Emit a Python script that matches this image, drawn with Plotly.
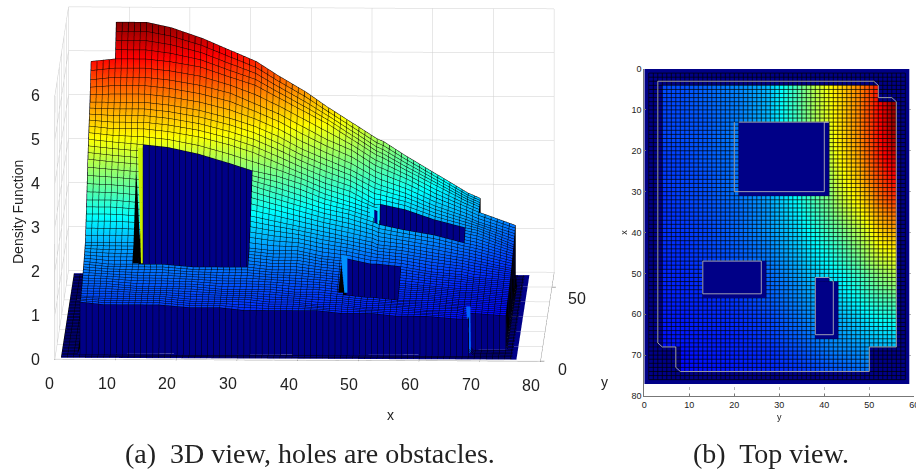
import numpy as np
import plotly.graph_objects as go

# ---- data ----
X_KNOTS = [1, 4, 8, 13, 17, 22, 27, 31, 35, 39, 43, 47, 51, 52, 56, 61, 66, 68, 74, 76]
Y_KNOTS = [1, 4, 8, 13, 21, 27, 33, 38, 41, 43, 47, 50, 52, 56, 58]
DENSITY_MAX = 5.85
# density as fraction of DENSITY_MAX: rows follow X_KNOTS, columns follow Y_KNOTS
DENSITY_FRAC = [
    [.20, .20, .20, .22, .26, .30, .43, .56, .62, .66, .73, .80, .86, .86, .86],
    [.20, .20, .20, .22, .26, .30, .43, .56, .62, .66, .73, .80, .86, .86, .86],
    [.19, .19, .20, .22, .25, .30, .43, .55, .61, .65, .73, .81, .87, .99, .99],
    [.19, .19, .20, .21, .25, .30, .42, .54, .60, .65, .73, .81, .87, .99, .99],
    [.18, .19, .20, .21, .25, .30, .41, .53, .59, .64, .72, .80, .86, .97, .97],
    [.18, .18, .19, .21, .24, .29, .40, .51, .565, .62, .70, .78, .84, .93, .93],
    [.18, .18, .19, .20, .24, .28, .38, .49, .53, .59, .67, .75, .80, .88, .88],
    [.17, .17, .19, .20, .24, .28, .37, .46, .50, .56, .64, .71, .77, .84, .84],
    [.17, .17, .18, .20, .23, .27, .35, .43, .48, .52, .60, .67, .72, .78, .78],
    [.17, .17, .18, .19, .23, .27, .33, .40, .45, .48, .55, .62, .67, .725, .725],
    [.16, .17, .17, .19, .22, .25, .31, .37, .41, .44, .51, .57, .62, .66, .66],
    [.16, .16, .17, .18, .21, .24, .29, .35, .38, .41, .47, .53, .56, .60, .60],
    [.16, .16, .16, .17, .19, .22, .27, .32, .35, .36, .42, .47, .50, .54, .54],
    [.16, .16, .16, .17, .19, .22, .26, .31, .34, .36, .41, .46, .49, .53, .53],
    [.15, .15, .16, .16, .18, .21, .25, .29, .32, .34, .38, .42, .44, .47, .47],
    [.15, .15, .15, .16, .17, .19, .23, .27, .29, .30, .33, .36, .38, .40, .40],
    [.14, .14, .15, .15, .16, .18, .21, .24, .26, .27, .29, .31, .32, .33, .33],
    [.14, .14, .14, .15, .16, .17, .20, .23, .25, .26, .27, .29, .30, .31, .31],
    [.13, .13, .13, .14, .15, .16, .17, .19, .20, .205, .225, .24, .26, .28, .28],
    [.13, .13, .13, .14, .15, .16, .17, .19, .20, .205, .225, .24, .26, .28, .28],
]
# removed regions: x0, x1, y0, y1
OBSTACLES = [(13, 31, 21, 41), (47, 56, 13, 27), (52, 66, 38, 43), (51, 52, 38, 41)]
OUTER_CUTS = [(0, 4, 0, 60), (74, 80, 0, 60), (0, 80, 0, 4), (0, 80, 56, 60),
              (0, 8, 52, 60), (68, 80, 0, 8), (68, 80, 50, 60)]
# obstacle side walls seen at a grazing angle: colour and (x, y, z) corners
WALL_FACES = [
    ("#000000", [(12.06, 21, 1.48), (13.4, 21, 1.48), (12.6, 21, 3.7)]),
    ("#c8f000", [(12.9, 21, 4.11), (13.7, 21, 4.11), (13.7, 21, 1.48), (13.4, 21, 1.48)]),
    ("#000000", [(46.2, 13, 1.1), (47.2, 13, 1.1), (46.7, 13, 1.77)]),
    ("#0090ff", [(46.7, 13, 1.95), (47.7, 13, 1.95), (47.7, 13, 1.1), (47.2, 13, 1.1)]),
    ("#00e5ff", [(50.4, 38, 2.2), (51.2, 38, 2.2), (51.2, 38, 1.77), (50.7, 38, 1.77)]),
    ("#00e5ff", [(51.7, 38, 2.25), (52.1, 38, 2.25), (52.1, 38, 1.75), (51.7, 38, 1.75)]),
    ("#0060ff", [(67.6, 4, 1.1), (68.3, 4, 1.1), (68.4, 4, 0.05), (68.1, 4, 0.05)]),
]
# light outlines on the top view, as (y, x) vertices
OUTLINES = [
    [(3, 3), (51, 3), (52, 4), (52, 7), (55, 7), (56, 8), (56, 68), (50, 68), (50, 74),
     (8, 74), (7, 73), (7, 68), (4, 68), (3, 67), (3, 3)],
    [(21, 13), (41, 13), (40, 13), (40, 30), (20, 30), (20, 13)],
    [(13, 47), (26, 47), (26, 55), (13, 55), (13, 47)],
    [(38, 51), (41, 51), (42, 52), (42, 65), (38, 65), (38, 51)],
]
X_TICKS = [0, 10, 20, 30, 40, 50, 60, 70, 80]
Y_TICKS_3D = [0, 50]
Y_GRID_3D = [0, 10, 20, 30, 40, 50, 60]
Z_TICKS = [0, 1, 2, 3, 4, 5, 6]
TOP_X_TICKS = [0, 10, 20, 30, 40, 50, 60]
TOP_Y_TICKS = [0, 10, 20, 30, 40, 50, 60, 70, 80]
CAPTION_A = "(a)  3D view, holes are obstacles."
CAPTION_B = "(b)  Top view."

JET = [[0, "rgb(0,0,135)"], [.125, "rgb(0,0,255)"], [.375, "rgb(0,255,255)"],
       [.625, "rgb(255,255,0)"], [.875, "rgb(255,0,0)"], [1, "rgb(128,0,0)"]]
EPS = 0.02
CUTS = OBSTACLES + OUTER_CUTS


def expand(knots):
    coords, owner = [], []
    for i, k in enumerate(knots):
        steps = [0] if i in (0, len(knots) - 1) else [-EPS, 0, EPS]
        for s in steps:
            coords.append(k + s)
            owner.append(i)
    return np.array(coords), owner


def open_free(px, py):
    return not any(a <= px <= b and c <= py <= d for a, b, c, d in CUTS)


def closed_free(px, py):
    return not any(a < px < b and c < py < d for a, b, c, d in CUTS)


xs, xo = expand(X_KNOTS)
ys, yo = expand(Y_KNOTS)
D = np.array(DENSITY_FRAC) * DENSITY_MAX
Z = np.zeros((len(xs), len(ys)))
C = np.zeros((len(xs), len(ys)))
for i, px in enumerate(xs):
    for j, py in enumerate(ys):
        d = D[xo[i], yo[j]]
        Z[i, j] = d if closed_free(px, py) else 0.0
        C[i, j] = d if open_free(px, py) else 0.0


def seg3d(points):
    a, b, c = [], [], []
    for p, q in points:
        a += [p[0], q[0], None]
        b += [p[1], q[1], None]
        c += [p[2], q[2], None]
    return a, b, c


grid = []
for x in X_TICKS:
    grid.append(((x, 60, 0), (x, 60, 6)))
    grid.append(((x, 0, 0), (x, 60, 0)))
for y in Y_GRID_3D:
    grid.append(((0, y, 0), (0, y, 6)))
    grid.append(((0, y, 0), (80, y, 0)))
for z in Z_TICKS:
    grid.append(((0, 60, z), (80, 60, z)))
    grid.append(((0, 0, z), (0, 60, z)))
gx, gy, gz = seg3d(grid)

fig = go.Figure()
fig.add_trace(go.Scatter3d(x=gx, y=gy, z=gz, mode="lines", hoverinfo="skip", showlegend=False,
                           line=dict(color="#cfcfcf", width=1)))
fig.add_trace(go.Surface(
    x=xs, y=ys, z=Z.T, surfacecolor=C.T, colorscale=JET, cmin=0, cmax=DENSITY_MAX,
    showscale=False, hoverinfo="skip",
    lighting=dict(ambient=1, diffuse=0, specular=0, roughness=1, fresnel=0),
    contours=dict(
        x=dict(show=True, start=1, end=76, size=1, color="black", width=1),
        y=dict(show=True, start=1, end=58, size=1, color="black", width=1),
        z=dict(show=False)),
))
for colour, corners in WALL_FACES:
    n = len(corners)
    fig.add_trace(go.Mesh3d(
        x=[c[0] for c in corners], y=[c[1] for c in corners], z=[c[2] for c in corners],
        i=[0] * (n - 2), j=list(range(1, n - 1)), k=list(range(2, n)),
        color=colour, flatshading=True, hoverinfo="skip", showscale=False,
        lighting=dict(ambient=1, diffuse=0, specular=0, roughness=1, fresnel=0)))

tick_font = dict(family="Liberation Sans", size=16, color="#222")
ann3d = []
for x in X_TICKS:
    ann3d.append(dict(x=x, y=0, z=0, text=str(x), showarrow=False, xshift=-9 if x else -5, yshift=-24, font=tick_font))
for y in Y_TICKS_3D:
    ann3d.append(dict(x=80, y=y, z=0, text=str(y), showarrow=False, xshift=25 if y else 22,
                      yshift=-11 if y else -8, font=tick_font))
for z in Z_TICKS:
    ann3d.append(dict(x=0, y=0, z=z, text=str(z), showarrow=False, xshift=-19, yshift=0, font=tick_font))

axis3d = dict(showgrid=False, showbackground=False, showspikes=False, zeroline=False,
              showticklabels=False, title=dict(text=""), showline=True, linecolor="#777",
              linewidth=1, ticks="outside", ticklen=4, tickcolor="#555", tickwidth=1)
a = np.radians(1.44)
el = np.radians(9.4)
R = 2.0
scene = dict(
    domain=dict(x=[0, 609 / 916], y=[1 - 368 / 473, 1]),
    xaxis=dict(axis3d, range=[0, 80], tickvals=X_TICKS),
    yaxis=dict(axis3d, range=[0, 60], tickvals=Y_TICKS_3D),
    zaxis=dict(axis3d, range=[0, 6], tickvals=Z_TICKS),
    aspectmode="manual",
    aspectratio=dict(x=2.64, y=2.96, z=1.451),
    camera=dict(projection=dict(type="orthographic"),
                up=dict(x=0, y=0, z=1), center=dict(x=0, y=0, z=0),
                eye=dict(x=R * np.sin(a) * np.cos(el), y=-R * np.cos(a) * np.cos(el), z=R * np.sin(el))),
    annotations=ann3d,
    bgcolor="white",
)

# ---- top view ----
fig.add_trace(go.Heatmap(x=ys, y=xs, z=C, colorscale=JET, zmin=0, zmax=DENSITY_MAX, zsmooth="best",
                         showscale=False, hoverinfo="skip", xaxis="x", yaxis="y"))
lx, ly = [], []
for u in range(1, 59):
    lx += [u, u, None]
    ly += [1, 76, None]
for v in range(1, 77):
    lx += [1, 58, None]
    ly += [v, v, None]
fig.add_trace(go.Scatter(x=lx, y=ly, mode="lines", hoverinfo="skip", showlegend=False, xaxis="x", yaxis="y",
                         line=dict(color="rgba(0,0,0,0.7)", width=1)))
for (x0, x1, y0, y1) in OBSTACLES:
    fig.add_trace(go.Scatter(x=[y0, y1, y1, y0, y0], y=[x0, x0, x1, x1, x0], mode="lines", fill="toself",
                             fillcolor="rgb(0,0,135)", line=dict(width=0), hoverinfo="skip",
                             showlegend=False, xaxis="x", yaxis="y"))
for poly in OUTLINES:
    fig.add_trace(go.Scatter(x=[p[0] for p in poly], y=[p[1] for p in poly], mode="lines", hoverinfo="skip",
                             showlegend=False, xaxis="x", yaxis="y",
                             line=dict(color="rgba(185,185,185,0.85)", width=1)))

small = dict(family="Liberation Sans", size=9, color="#222")
label_font = dict(family="Liberation Sans", size=14, color="#222")
caption_font = dict(family="Liberation Serif", size=28, color="#222")


def note(px, py, text, font, angle=0):
    return dict(xref="paper", yref="paper", x=px / 916, y=1 - py / 473, text=text, showarrow=False,
                xanchor="center", yanchor="middle", font=font, textangle=angle)


fig.update_layout(
    width=916, height=473, margin=dict(l=0, r=0, t=0, b=0, autoexpand=False), paper_bgcolor="white",
    plot_bgcolor="white", showlegend=False, scene=scene,
    xaxis=dict(domain=[644.3 / 916, 914.3 / 916], range=[0, 60], tickvals=TOP_X_TICKS, anchor="y",
               showgrid=True, gridcolor="#b8b8b8", griddash="dot", showline=True, linecolor="#777",
               ticks="inside", ticklen=2, tickcolor="#777", tickfont=small, zeroline=False,
               ticklabeloverflow="allow",
               title=dict(text="y", font=small, standoff=4)),
    yaxis=dict(domain=[1 - 396 / 473, 1 - 69 / 473], range=[80, 0], tickvals=TOP_Y_TICKS, anchor="x",
               showgrid=True, gridcolor="#b8b8b8", griddash="dot", showline=True, linecolor="#777",
               ticks="inside", ticklen=2, tickcolor="#777", tickfont=small, zeroline=False,
               title=dict(text="x", font=small, standoff=2)),
    annotations=[
        note(310, 453, CAPTION_A, caption_font),
        note(771, 453, CAPTION_B, caption_font),
        note(18, 212, "Density Function", label_font, -90),
        note(390, 415, "x", label_font),
        note(604, 382, "y", label_font),
    ],
)
fig.write_html("out.html", post_script="document.body.style.margin='0';", config=dict(displayModeBar=False))
